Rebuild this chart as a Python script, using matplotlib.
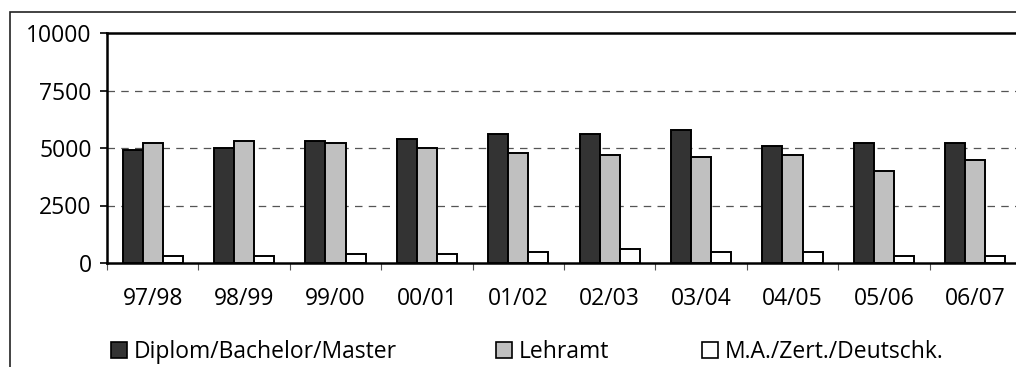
import matplotlib
matplotlib.use("Agg")
import matplotlib.pyplot as plt
import numpy as np
from matplotlib.patches import Rectangle, Patch

plt.rcParams['font.family'] = ['Open Sans', 'DejaVu Sans']

semesters = ["97/98", "98/99", "99/00", "00/01", "01/02", "02/03", "03/04", "04/05", "05/06", "06/07"]
series_names = ["Diplom/Bachelor/Master", "Lehramt", "M.A./Zert./Deutschk."]
diplom = [4900, 5000, 5300, 5400, 5600, 5600, 5800, 5100, 5200, 5200]
lehramt = [5200, 5300, 5200, 5000, 4800, 4700, 4600, 4700, 4000, 4500]
magister = [300, 300, 400, 400, 500, 600, 500, 500, 300, 300]
colors = ["#333333", "#c0c0c0", "#ffffff"]
y_ticks = [0, 2500, 5000, 7500, 10000]

W, H = 1016, 367
FS = 16.5
fig = plt.figure(figsize=(W / 100, H / 100), dpi=100)

# outer chart frame (runs off the right and bottom edges)
fig.patches.append(Rectangle((10 / W, -0.1), 1.2, 1 - 12 / H + 0.1, transform=fig.transFigure,
                             fill=False, edgecolor="#222222", linewidth=1.2))

ax = fig.add_axes([107 / W, 1 - 263 / H, (1021 - 107) / W, (263 - 33) / H])
x = np.arange(len(semesters))
bw = 0.219
for i, (vals, c, name) in enumerate(zip([diplom, lehramt, magister], colors, series_names)):
    ax.bar(x + (i - 1) * bw, vals, bw, color=c, edgecolor="black", linewidth=1.4, label=name, zorder=3)

ax.set_xlim(-0.5, len(semesters) - 0.5)
ax.set_ylim(0, 10000)
ax.set_yticks(y_ticks)
ax.set_yticklabels([str(v) for v in y_ticks], fontsize=FS)
ax.set_xticks(x)
ax.set_xticklabels(semesters, fontsize=FS)
ax.set_xticks(np.arange(-0.5, len(semesters)), minor=True)
ax.tick_params(axis='x', which='major', length=0, pad=17)
ax.tick_params(axis='x', which='minor', length=5, width=0.8, color="#555555")
ax.tick_params(axis='y', which='major', length=5, width=1.2, pad=6)

for y in y_ticks[1:-1]:
    ax.axhline(y, color="#555555", linestyle=(0, (6, 5)), linewidth=0.9, zorder=1)

for s in ["left", "top", "bottom"]:
    ax.spines[s].set_linewidth(1.8)
ax.spines["right"].set_visible(False)

# one legend entry per series, each at its own horizontal position
legend_x = [111, 496, 702]
for name, c, lx in zip(series_names, colors, legend_x):
    fig.legend([Patch(facecolor=c, edgecolor="black", linewidth=1.2)], [name],
               loc="center left", bbox_to_anchor=(lx / W, 1 - 352 / H),
               frameon=False, fontsize=FS, handlelength=0.68, handleheight=0.68,
               handletextpad=0.3, borderaxespad=0, borderpad=0)

fig.savefig("out.png", dpi=100)
